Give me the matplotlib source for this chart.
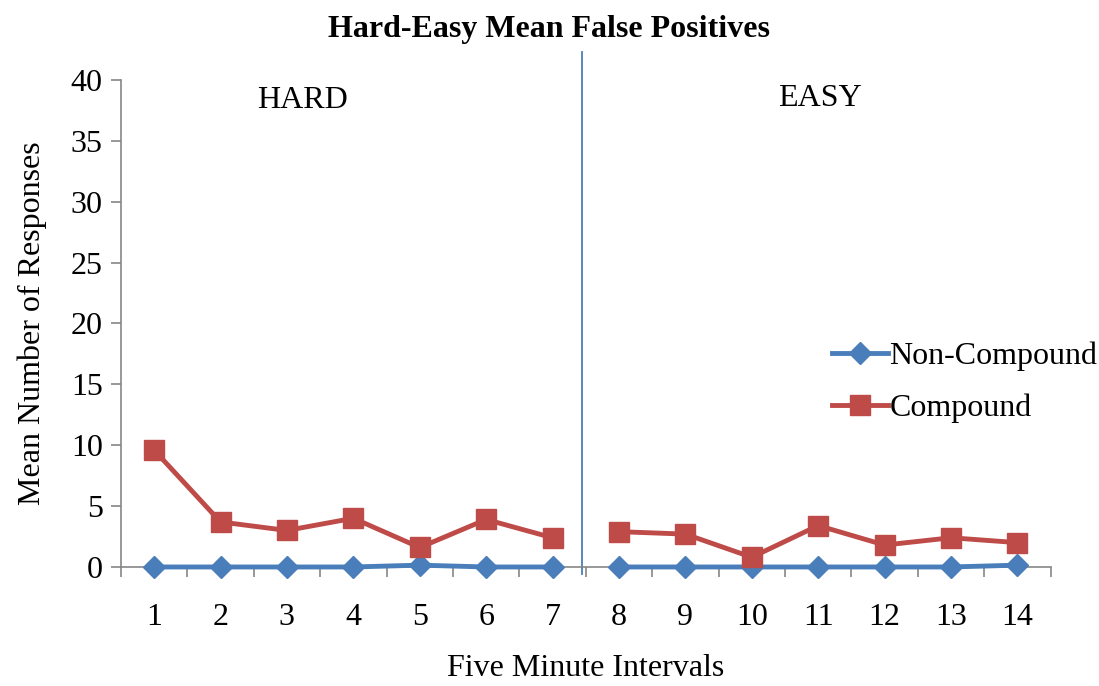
import matplotlib.pyplot as plt
import numpy as np

plt.rcParams['font.family'] = ['Liberation Serif', 'DejaVu Serif']

intervals = list(range(1, 15))
non_compound = [0.0, 0.0, 0.0, 0.0, 0.15, 0.0, 0.0, 0.0, 0.0, 0.0, 0.0, 0.0, 0.0, 0.15]
compound = [9.6, 3.7, 3.0, 4.0, 1.6, 3.9, 2.4, 2.9, 2.7, 0.8, 3.4, 1.8, 2.4, 2.0]
blocks = [(0, 7), (7, 14)]

blue = '#4A7EBB'
red = '#BE4B48'
fs = 23

fig = plt.figure(figsize=(10.99, 6.86), dpi=100)
ax = fig.add_axes([0.110, 0.1735, 0.846, 0.710])

x = np.array(intervals)
for i, (a, b) in enumerate(blocks):
    ax.plot(x[a:b], non_compound[a:b], color=blue, lw=3.5, marker='D', ms=11,
            clip_on=False, zorder=3, label='Non-Compound' if i == 0 else None)
    ax.plot(x[a:b], compound[a:b], color=red, lw=3.5, marker='s', ms=14.5,
            clip_on=False, zorder=3, label='Compound' if i == 0 else None)

ax.set_xlim(0.5, 14.5)
ax.set_ylim(0, 40)
ax.set_yticks(range(0, 41, 5))
ax.set_xticks(intervals)
ax.set_xticks(np.arange(0.5, 15, 1), minor=True)
ax.tick_params(axis='x', which='major', length=0, labelsize=fs, pad=26)
ax.tick_params(axis='x', which='minor', length=7, direction='out', color='#868686', width=1.2)
ax.tick_params(axis='y', labelsize=fs, length=7, color='#868686', width=1.2, pad=6)
for s in ['top', 'right']:
    ax.spines[s].set_visible(False)
for s in ['left', 'bottom']:
    ax.spines[s].set_color('#868686')
    ax.spines[s].set_linewidth(1.2)

# divider between hard and easy blocks
ax.plot([7.45, 7.45], [-0.6, 42.3], color=blue, lw=1.3, clip_on=False)
ax.text(3.24, 38.3, 'HARD', fontsize=fs, ha='center', va='center')
ax.text(11.02, 38.5, 'EASY', fontsize=fs, ha='center', va='center')

ax.set_xlabel('Five Minute Intervals', fontsize=fs, labelpad=16)
ax.set_ylabel('Mean Number of Responses', fontsize=fs, labelpad=17)
fig.suptitle('Hard-Easy Mean False Positives', fontsize=23, fontweight='bold', y=0.978)

ax.legend(loc='center left', bbox_to_anchor=(0.731, 0.443), bbox_transform=fig.transFigure,
          frameon=False, fontsize=fs, handlelength=1.75, handletextpad=0.05, labelspacing=0.7)

fig.savefig('out.png', dpi=100)
